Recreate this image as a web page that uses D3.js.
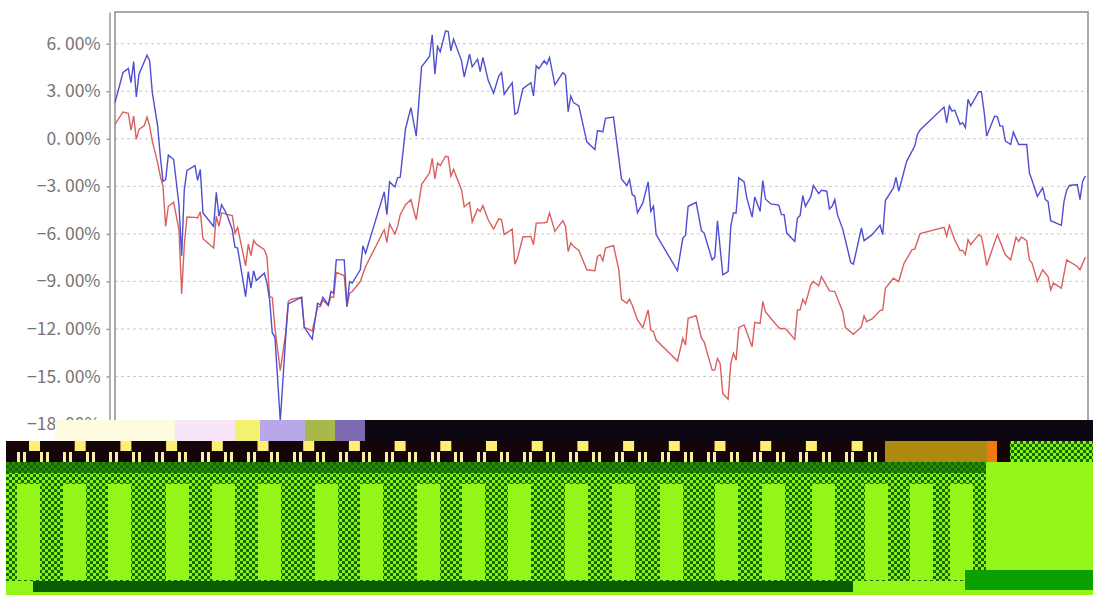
<!DOCTYPE html>
<html>
<head>
<meta charset="utf-8">
<script src="https://cdnjs.cloudflare.com/ajax/libs/d3/7.8.5/d3.min.js"></script>
<style>
html, body { margin: 0; padding: 0; background: #fff; }
svg { display: block; }
.axis text { font-family: "Noto Sans CJK SC", sans-serif; font-size: 17.5px; fill: #747474; }
.axis path, .axis line { stroke: #999; stroke-width: 1.5; }
</style>
</head>
<body>
<div id="chart"></div>
<script>
// days since the start of the year, values in percent
var blueDays = [0,3,5,6,7,8,9,12,13,14,16,17,18,19,20,22,24,25,26,27,30,31,32,33,37,38,39,40,42,44,45,46,49,50,51,52,53,56,57,58,59,60,62,64,65,70,71,74,76,77,78,80,81,82,83,86,87,88,89,92,93,94,101,102,103,105,106,107,109,111,113,115,118,119,120,121,122,124,125,126,127,130,131,133,134,136,137,138,140,142,144,145,146,149,150,151,153,156,157,158,159,161,162,163,165,168,169,170,171,172,174,177,180,181,182,183,184,187,190,192,193,194,195,196,198,200,201,202,203,211,213,214,215,218,220,221,224,225,226,228,230,231,232,233,234,236,237,239,240,242,243,244,246,249,250,251,252,255,256,257,258,259,261,262,264,265,267,268,269,270,271,273,276,277,280,281,284,287,288,289,292,293,294,297,299,300,301,302,311,312,313,314,315,317,318,319,320,321,324,325,326,327,330,331,332,333,334,336,337,339,342,343,344,346,348,349,350,351,355,356,357,358,361,362,363,364];
var blueVals = [2.28,4.18,4.43,3.54,4.87,2.64,4.07,5.27,4.92,2.91,0.80,-1.10,-2.68,-2.57,-1.03,-1.31,-4.16,-7.38,-3.21,-2.00,-1.69,-2.62,-1.94,-4.68,-5.53,-3.38,-4.89,-4.16,-4.79,-5.74,-6.84,-6.90,-9.96,-8.38,-9.43,-8.33,-8.95,-8.48,-9.11,-10.17,-12.24,-12.53,-17.8,-12.6,-10.42,-10.00,-11.90,-12.64,-10.38,-10.49,-10.00,-10.49,-9.64,-9.75,-7.64,-7.64,-10.59,-9.01,-9.11,-8.27,-6.75,-7.22,-3.35,-4.79,-2.72,-3.04,-2.47,-2.43,0.65,1.96,0.17,4.54,5.19,6.56,4.07,5.82,5.49,6.81,6.77,5.55,6.29,4.92,3.90,5.34,4.54,5.02,4.24,5.13,3.69,2.87,3.97,4.18,2.81,3.54,1.54,1.65,3.16,3.54,2.70,4.60,4.43,4.92,4.70,5.13,3.40,4.18,4.01,1.71,2.70,2.28,2.07,-0.19,-0.68,0.51,0.49,0.44,1.29,1.37,-2.53,-2.95,-2.57,-3.52,-3.63,-4.68,-4.05,-2.72,-4.58,-4.26,-6.05,-8.33,-6.27,-6.10,-4.26,-4.01,-5.80,-5.95,-7.64,-7.47,-5.17,-8.59,-8.38,-5.53,-4.68,-4.68,-2.47,-2.72,-3.73,-4.94,-3.67,-4.58,-2.64,-3.80,-4.11,-4.18,-4.79,-4.79,-5.95,-6.48,-5.00,-4.85,-3.59,-4.26,-3.67,-2.95,-3.46,-3.25,-3.31,-4.43,-4.26,-3.84,-4.79,-5.70,-7.81,-7.91,-5.63,-6.43,-6.05,-5.46,-6.05,-3.90,-3.10,-2.43,-3.31,-1.41,-0.78,-0.46,0.27,0.55,2.00,1.01,2.07,1.75,1.81,0.91,1.01,0.70,2.49,2.07,2.97,2.97,1.75,0.17,1.43,1.39,0.80,0.80,-0.15,-0.36,0.42,-0.36,-0.36,-2.15,-2.62,-3.63,-3.10,-3.84,-3.95,-5.17,-5.46,-3.95,-3.25,-2.95,-2.89,-3.84,-2.68,-2.36];
var redDays = [0,3,5,6,7,8,9,11,12,13,14,16,17,18,19,20,22,24,25,26,27,30,31,32,33,37,38,39,40,42,44,45,46,49,50,51,52,53,56,57,58,59,60,62,64,65,66,70,71,74,76,77,78,80,81,82,83,86,87,88,89,92,94,101,102,103,105,106,107,109,111,113,115,118,119,120,121,122,124,125,126,127,130,131,133,134,136,137,138,140,142,144,145,146,149,150,151,153,156,157,158,161,162,163,165,168,169,170,171,172,174,177,180,181,182,183,184,187,189,190,192,193,194,196,198,200,201,202,203,211,213,214,215,218,220,221,224,225,226,227,228,230,231,232,233,234,236,239,240,242,243,244,246,249,250,251,252,255,256,257,258,259,261,262,264,265,268,270,273,274,277,280,281,282,284,287,288,289,292,294,296,299,300,302,311,312,313,315,317,318,319,320,321,324,325,326,327,331,334,336,338,339,340,342,343,344,346,348,350,351,352,355,357,361,362,364];
var redVals = [0.91,1.69,1.60,0.55,1.43,-0.04,0.59,0.84,1.37,0.80,-0.15,-1.52,-2.36,-3.00,-5.53,-4.26,-4.01,-5.74,-9.79,-6.69,-4.94,-4.96,-5.00,-4.60,-6.31,-6.90,-4.89,-5.53,-4.68,-4.77,-4.85,-5.95,-5.59,-8.02,-6.65,-7.38,-6.41,-6.65,-7.00,-7.43,-9.96,-10.02,-11.96,-14.64,-12.28,-10.27,-10.13,-10.00,-11.90,-12.13,-10.59,-10.59,-10.17,-10.53,-9.96,-10.02,-8.42,-8.65,-10.59,-9.75,-9.64,-9.01,-8.06,-5.74,-6.54,-5.38,-6.01,-5.53,-4.79,-4.16,-3.84,-5.11,-2.89,-2.15,-1.24,-2.53,-1.52,-1.69,-1.10,-1.14,-2.36,-1.94,-3.21,-4.30,-4.01,-5.25,-4.43,-4.58,-4.22,-5.11,-5.70,-5.04,-5.11,-6.05,-5.70,-7.91,-7.53,-6.20,-6.16,-6.69,-5.32,-5.30,-5.27,-4.68,-5.84,-5.17,-5.53,-7.11,-6.58,-6.79,-7.05,-8.27,-8.33,-7.43,-7.32,-7.70,-6.90,-6.73,-8.27,-10.13,-10.38,-10.13,-10.49,-11.43,-11.92,-10.80,-12.07,-12.17,-12.70,-14.03,-12.59,-13.02,-11.33,-11.16,-12.59,-12.81,-14.60,-14.60,-13.86,-14.18,-16.08,-16.43,-14.18,-13.54,-13.97,-11.92,-11.75,-13.12,-11.58,-11.65,-10.27,-10.91,-11.33,-11.92,-12.00,-11.96,-12.07,-12.66,-10.80,-10.80,-10.13,-10.42,-9.22,-9.01,-9.28,-8.69,-9.60,-9.64,-10.91,-11.92,-12.34,-11.86,-11.18,-11.54,-11.37,-10.84,-10.80,-9.43,-8.80,-9.01,-7.85,-7.00,-6.96,-5.99,-5.59,-6.16,-5.46,-6.37,-7.05,-7.05,-7.32,-6.37,-6.69,-6.05,-6.16,-7.00,-8.00,-6.05,-7.32,-7.64,-6.22,-6.48,-6.20,-6.43,-7.64,-7.85,-9.01,-8.27,-8.69,-9.54,-9.11,-9.43,-7.64,-8.06,-8.27,-7.47];
var yTicks = [6, 3, 0, -3, -6, -9, -12, -15, -18];

var width = 1093,
    height = 595;

var margin = {top: 12, right: 1088, bottom: 424, left: 115};

var svg = d3.select("#chart").append("svg")
    .attr("width", width)
    .attr("height", height);

var x = d3.scaleLinear().domain([0, 365]).range([margin.left, margin.right]);
var y = d3.scaleLinear().domain([-18, 8]).range([margin.bottom, margin.top]);

// dashed grid
svg.append("g").selectAll("line")
    .data(yTicks)
    .enter().append("line")
      .attr("x1", margin.left)
      .attr("x2", margin.right)
      .attr("y1", function(d) { return y(d); })
      .attr("y2", function(d) { return y(d); })
      .attr("stroke", "#c8c8c8")
      .attr("stroke-dasharray", "3,3");

// plot frame
svg.append("rect")
    .attr("x", margin.left)
    .attr("y", margin.top)
    .attr("width", margin.right - margin.left)
    .attr("height", margin.bottom - margin.top)
    .attr("fill", "none")
    .attr("stroke", "#8c8c8c")
    .attr("stroke-width", 1.5);

var yAxis = d3.axisLeft(y)
    .tickValues(yTicks)
    .tickSize(3)
    .tickSizeOuter(0)
    .tickPadding(6)
    .tickFormat(function(d) { return d3.format(".2f")(d).replace(".", ". ") + "%"; });

svg.append("g")
    .attr("class", "axis")
    .attr("transform", "translate(109.5,0)")
    .call(yAxis);

var line = d3.line()
    .x(function(d) { return x(d[0]); })
    .y(function(d) { return y(d[1]); });

svg.append("path")
    .datum(d3.zip(redDays, redVals))
    .attr("fill", "none")
    .attr("stroke", "#d9605f")
    .attr("stroke-width", 1.4)
    .attr("d", line);

svg.append("path")
    .datum(d3.zip(blueDays, blueVals))
    .attr("fill", "none")
    .attr("stroke", "#4f4fd2")
    .attr("stroke-width", 1.4)
    .attr("d", line);

// damaged strip along the bottom of the reference image, no data in it
var brightCols = [17,63,108,166,212,258,315,360,417,462,508,565,612,660,715,762,812,865,910,950];
var yellowSquares = d3.range(29, 880, 45.7);
var topPatches = [
  [55, 205, "#fffbe0"], [175, 60, "#f6e6f8"], [235, 25, "#f2f270"], [260, 45, "#b9a8e8"],
  [305, 30, "#a9b84a"], [335, 30, "#7d6ab0"], [365, 728, "#0c0710"]
];

var defs = svg.append("defs");
var check = defs.append("pattern")
    .attr("id", "check")
    .attr("width", 6)
    .attr("height", 6)
    .attr("patternUnits", "userSpaceOnUse");
check.append("rect").attr("width", 6).attr("height", 6).attr("fill", "#0f6a00");
check.append("rect").attr("width", 3).attr("height", 3).attr("fill", "#8fef1a");
check.append("rect").attr("x", 3).attr("y", 3).attr("width", 3).attr("height", 3).attr("fill", "#8fef1a");
var ticksPat = defs.append("pattern")
    .attr("id", "ticksPat")
    .attr("width", 23)
    .attr("height", 10)
    .attr("patternUnits", "userSpaceOnUse")
    .attr("x", 17);
ticksPat.append("rect").attr("width", 3).attr("height", 10).attr("fill", "#f6f0a0");
ticksPat.append("rect").attr("x", 6).attr("width", 3).attr("height", 10).attr("fill", "#f6f0a0");

var band = svg.append("g");
band.selectAll("rect.top")
    .data(topPatches)
    .enter().append("rect")
      .attr("class", "top")
      .attr("x", function(d) { return d[0]; })
      .attr("y", 420)
      .attr("width", function(d) { return d[1]; })
      .attr("height", 21)
      .attr("fill", function(d) { return d[2]; });
band.append("rect").attr("x", 6).attr("y", 441).attr("width", 1087).attr("height", 21).attr("fill", "#150508");
band.append("rect").attr("x", 6).attr("y", 452).attr("width", 960).attr("height", 10).attr("fill", "url(#ticksPat)");
band.selectAll("rect.sq")
    .data(yellowSquares)
    .enter().append("rect")
      .attr("class", "sq")
      .attr("x", function(d) { return d; })
      .attr("y", 441)
      .attr("width", 11)
      .attr("height", 10)
      .attr("fill", "#ffef70");
band.append("rect").attr("x", 885).attr("y", 441).attr("width", 105).attr("height", 21).attr("fill", "#b08a10");
band.append("rect").attr("x", 987).attr("y", 441).attr("width", 10).attr("height", 21).attr("fill", "#f07a10");
band.append("rect").attr("x", 1010).attr("y", 441).attr("width", 83).attr("height", 21).attr("fill", "url(#check)");
band.append("rect").attr("x", 6).attr("y", 462).attr("width", 1087).attr("height", 133).attr("fill", "#94f518");
band.append("rect").attr("x", 6).attr("y", 462).attr("width", 980).attr("height", 119).attr("fill", "url(#check)");
band.selectAll("rect.col")
    .data(brightCols)
    .enter().append("rect")
      .attr("class", "col")
      .attr("x", function(d) { return d; })
      .attr("y", 484)
      .attr("width", 23)
      .attr("height", 96)
      .attr("fill", "#94f518");
band.append("rect").attr("x", 6).attr("y", 462).attr("width", 980).attr("height", 11).attr("fill", "#0f6a00").attr("opacity", 0.75);
band.append("rect").attr("x", 33).attr("y", 581).attr("width", 820).attr("height", 11).attr("fill", "#0a5c00");
band.append("rect").attr("x", 965).attr("y", 570).attr("width", 128).attr("height", 20).attr("fill", "#0aa000");
</script>
</body>
</html>
